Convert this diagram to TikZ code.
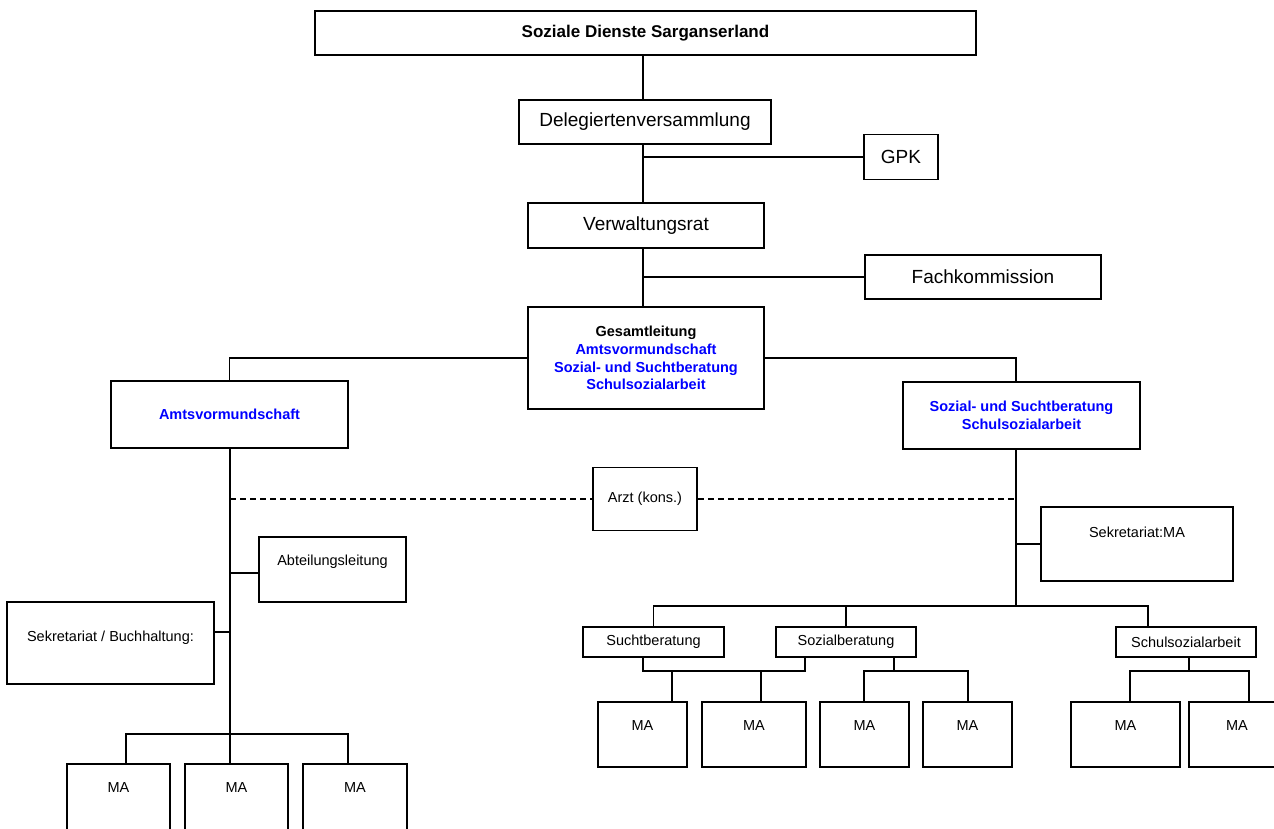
\documentclass[tikz,border=0pt]{standalone}
\usepackage{fontspec}
\setmainfont{Liberation Sans}
\usetikzlibrary{positioning,calc}

\tikzset{
  orgbox/.style={draw=black, line width=1.5pt, inner sep=0pt, align=center,
    font=\fontsize{14.5}{17.7}\selectfont},
  bigbox/.style={orgbox, font=\fontsize{19}{22}\selectfont},
  boldbox/.style={orgbox, font=\bfseries\fontsize{14.5}{17.7}\selectfont},
  boxsize/.style 2 args={minimum width=#1pt, minimum height=#2pt},
  toptext/.style 2 args={text height=#1pt, text depth=#2pt},
  conn/.style={line width=1.5pt},
  dashline/.style={line width=1.1pt, dash pattern=on 6pt off 4pt}
}

\begin{document}
\begin{tikzpicture}[x=1pt, y=-1pt]
			\useasboundingbox (0,0) rectangle (1274,828);
			\clip (0,0) rectangle (1274,828);

			% upper chain
			\node[orgbox, boxsize={661}{44}, font=\bfseries\fontsize{17}{20}\selectfont](sds) at (645.5,33) {Soziale Dienste Sarganserland};
			\node[bigbox, boxsize={252}{44}](dv) at (645,122) {Delegiertenversammlung};
			\node[bigbox, boxsize={74}{45}](gpk) at (901,157) {GPK};
			\node[bigbox, boxsize={236}{45}](vr) at (646,225.5) {Verwaltungsrat};
			\node[bigbox, boxsize={236}{44}](fk) at (983,277) {Fachkommission};
			\node[boldbox, boxsize={236}{102}](gl) at (646,358) {Gesamtleitung\\ \color{blue}Amtsvormundschaft\\ \color{blue}Sozial- und Suchtberatung\\ \color{blue}Schulsozialarbeit};

			% departments
			\node[boldbox, boxsize={237}{67}, text=blue](av) at (229.5,414.5) {Amtsvormundschaft};
			\node[boldbox, boxsize={237}{67}, text=blue](ssb) at (1021.5,415.5) {Sozial- und Suchtberatung\\ Schulsozialarbeit};
			\node[orgbox, boxsize={104}{63}](arzt) at (645,499) {Arzt (kons.)};

			% Amtsvormundschaft side
			\node[orgbox, minimum width=147pt, toptext={29}{36}, anchor=north](al) at (332.5,536) {Abteilungsleitung};
			\node[orgbox, minimum width=207pt, toptext={40}{42}, anchor=north](sb) at (110.5,601) {Sekretariat / Buchhaltung:};
			\node[orgbox, minimum width=103pt, toptext={29}{46}, anchor=north](maA) at (118.5,763) {MA};
			\node[orgbox, minimum width=103pt, toptext={29}{46}, anchor=north](maB) at (236.5,763) {MA};
			\node[orgbox, minimum width=104pt, toptext={29}{46}, anchor=north](maC) at (355,763) {MA};

			% Beratung side
			\node[orgbox, minimum width=192pt, toptext={31}{43}, anchor=north](sekma) at (1137,506) {Sekretariat:MA};
			\node[orgbox, boxsize={141}{30}](sucht) at (653.5,642) {Suchtberatung};
			\node[orgbox, boxsize={140}{30}](sozber) at (846,642) {Sozialberatung};
			\node[orgbox, boxsize={140}{30}](schul) at (1186,642) {Schulsozialarbeit};

			\node[orgbox, minimum width=89pt, toptext={29}{36}, anchor=north](maR1) at (642.5,701) {MA};
			\node[orgbox, minimum width=104pt, toptext={29}{36}, anchor=north](maR2) at (754,701) {MA};
			\node[orgbox, minimum width=89pt, toptext={29}{36}, anchor=north](maR3) at (864.5,701) {MA};
			\node[orgbox, minimum width=89pt, toptext={29}{36}, anchor=north](maR4) at (967.5,701) {MA};
			\node[orgbox, minimum width=109pt, toptext={29}{36}, anchor=north](maR5) at (1125.5,701) {MA};
			\node[orgbox, minimum width=96pt, toptext={29}{36}, anchor=north](maR6) at (1237,701) {MA};

			% junctions
			\coordinate (sp) at (643,0);
			\coordinate (lsp) at (230,0);
			\coordinate (rsp) at (1016,0);
			\coordinate (rbar) at (1016,606);
			\coordinate (schulup) at (1148,606);
			\coordinate (lbA) at (126,734);
			\coordinate (lbB) at (348,734);
			\coordinate (suA) at (643,671);
			\coordinate (suB) at (805,671);
			\coordinate (su1) at (672,671);
			\coordinate (su2) at (761,671);
			\coordinate (soM) at (894,671);
			\coordinate (soA) at (864,671);
			\coordinate (soB) at (968,671);
			\coordinate (scM) at (1189,671);
			\coordinate (scA) at (1130,671);
			\coordinate (scB) at (1249,671);

			% main spine
			\draw[conn](sp |- sds.south) -- (sp |- dv.north);
			\draw[conn](sp |- dv.south) -- (sp |- vr.north);
			\draw[conn](sp |- vr.south) -- (sp |- gl.north);
			\draw[conn](sp |- gpk.west) -- (gpk.west);
			\draw[conn](sp |- fk.west) -- (fk.west);
			\draw[conn](gl.west) -| (av.north);
			\draw[conn](gl.east) -| (rsp |- ssb.north);

			% Amtsvormundschaft
			\draw[conn](lsp |- av.south) -- (lsp |- maB.north);
			\draw[conn]([yshift=-3.5pt]al.west) -- ([yshift=-3.5pt]al.west -| lsp);
			\draw[conn]([yshift=11pt]sb.east) -- ([yshift=11pt]sb.east -| lsp);
			\draw[conn](lbA |- maA.north) -- (lbA) -- (lbB) -- (lbB |- maC.north);

			% Arzt
			\draw[dashline](lsp |- arzt.west) -- (arzt.west);
			\draw[dashline](arzt.east) -- (rsp |- arzt.east);

			% Beratung
			\draw[conn](rsp |- ssb.south) -- (rbar);
			\draw[conn](rsp |- sekma.west) -- (sekma.west);
			\draw[conn](sucht.north) |- (rbar);
			\draw[conn](sozber.north) -- (sozber.north |- rbar);
			\draw[conn](rbar) -- (schulup) -- (schulup |- schul.north);

			\draw[conn](suA |- sucht.south) -- (suA) -- (suB) -- (suB |- sozber.south);
			\draw[conn](su1) -- (su1 |- maR1.north);
			\draw[conn](su2) -- (su2 |- maR2.north);
			\draw[conn](soM |- sozber.south) -- (soM);
			\draw[conn](soA |- maR3.north) -- (soA) -- (soB) -- (soB |- maR4.north);
			\draw[conn](scM |- schul.south) -- (scM);
			\draw[conn](scA |- maR5.north) -- (scA) -- (scB) -- (scB |- maR6.north);
		\end{tikzpicture}
\end{document}
